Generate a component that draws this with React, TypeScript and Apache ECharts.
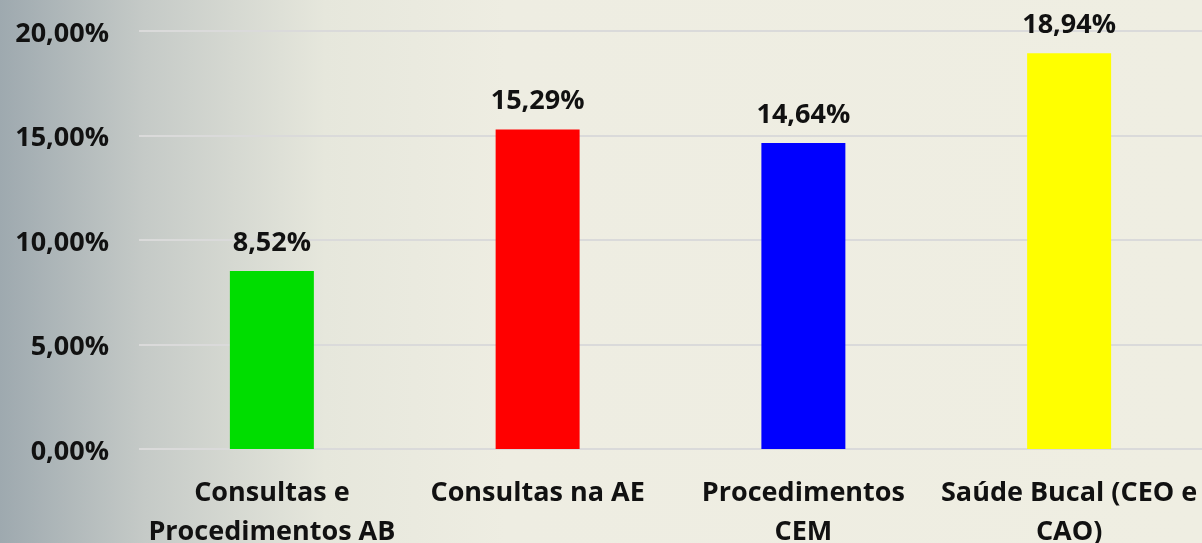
import React, { useEffect, useRef } from "react";
import * as echarts from "echarts";

const categories = [
  "Consultas e\nProcedimentos AB",
  "Consultas na AE",
  "Procedimentos\nCEM",
  "Saúde Bucal (CEO e\nCAO)",
];
const values = [8.52, 15.29, 14.64, 18.94];
const barColors = ["#00dd00", "#ff0000", "#0000ff", "#ffff00"];
const yTicks = { min: 0, max: 20, interval: 5 };

const fmt = (v: number) => v.toFixed(2).replace(".", ",") + "%";

export default function App() {
  const ref = useRef<HTMLDivElement>(null);
  useEffect(() => {
    if (!ref.current) return;
    const chart = echarts.init(ref.current, undefined, { renderer: "svg" });
    const font = "'Open Sans', sans-serif";
    chart.setOption({
      animation: false,
      graphic: [
        {
          type: "rect",
          z: -10,
          silent: true,
          shape: { x: 0, y: 0, width: 1202, height: 543 },
          style: {
            fill: new echarts.graphic.LinearGradient(0, 0, 1, 0, [
              { offset: 0, color: "#9ea9af" },
              { offset: 0.12, color: "#c5cac7" },
              { offset: 0.27, color: "#e6e7dc" },
              { offset: 0.42, color: "#eeede2" },
              { offset: 1, color: "#efeee2" },
            ]),
          },
        },
      ],
      grid: {
        left: 139,
        right: 0,
        top: 31,
        bottom: 94,
        containLabel: false,
        outerBoundsMode: "none",
      },
      xAxis: {
        type: "category",
        data: categories,
        axisLine: { show: false },
        axisTick: { show: false },
        axisLabel: {
          interval: 0,
          margin: 22,
          fontFamily: font,
          fontWeight: "bold",
          fontSize: 27,
          lineHeight: 39,
          color: "#111",
        },
      },
      yAxis: {
        type: "value",
        min: yTicks.min,
        max: yTicks.max,
        interval: yTicks.interval,
        axisLine: { show: false },
        axisTick: { show: false },
        splitLine: { lineStyle: { color: "#dadada", width: 2 } },
        axisLabel: {
          margin: 30,
          fontFamily: font,
          fontWeight: "bold",
          fontSize: 27,
          color: "#111",
          formatter: (v: number) => fmt(v),
        },
      },
      series: [
        {
          type: "bar",
          barWidth: "31.6%",
          data: values.map((v, i) => ({ value: v, itemStyle: { color: barColors[i] } })),
          label: {
            show: true,
            position: "top",
            distance: 17,
            fontFamily: font,
            fontWeight: "bold",
            fontSize: 27,
            color: "#111",
            formatter: (p: any) => fmt(p.value),
          },
        },
      ],
    });
    return () => chart.dispose();
  }, []);
  return (
    <div
      ref={ref}
      style={{ position: "fixed", left: 0, top: 0, width: 1202, height: 543 }}
    />
  );
}
